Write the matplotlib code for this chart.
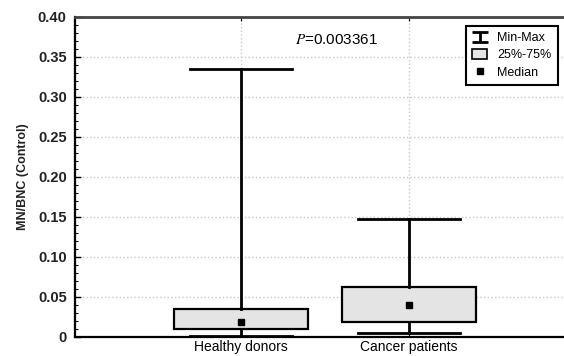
import matplotlib
matplotlib.use("Agg")
import matplotlib.pyplot as plt
from matplotlib.lines import Line2D
from matplotlib.patches import Patch
from matplotlib.path import Path
from matplotlib.ticker import MultipleLocator, FixedLocator

plt.rcParams['font.family'] = ['Liberation Sans', 'DejaVu Sans']
plt.rcParams['mathtext.fontset'] = 'stix'

groups = ['Healthy donors', 'Cancer patients']
mins = [0.001, 0.005]
q1 = [0.0095, 0.019]
medians = [0.019, 0.040]
q3 = [0.0345, 0.063]
maxs = [0.335, 0.148]
p_value = 0.003361

positions = [1, 2]
stats = []
for i, name in enumerate(groups):
    stats.append({'label': name, 'whislo': mins[i], 'q1': q1[i], 'med': medians[i],
                  'q3': q3[i], 'whishi': maxs[i], 'fliers': []})

fig = plt.figure(figsize=(5.64, 3.56), dpi=100)
ax = fig.add_axes([0.133, 0.0534, 0.875, 0.899])

ax.bxp(stats, positions=positions, widths=0.8, capwidths=0.61, patch_artist=True,
       showfliers=False,
       boxprops=dict(facecolor='#e4e4e4', edgecolor='black', linewidth=1.6),
       whiskerprops=dict(color='black', linewidth=2),
       capprops=dict(color='black', linewidth=2),
       medianprops=dict(linestyle='none'), zorder=3)
ax.plot(positions, medians, 's', color='black', markersize=5, zorder=4)

ax.set_ylim(0, 0.40)
ax.set_xlim(0.012, 2.95)
ax.yaxis.set_major_locator(FixedLocator([0.05 * k for k in range(9)]))
ax.yaxis.set_minor_locator(MultipleLocator(0.01))
ax.set_yticklabels(['0'] + ['%.2f' % (0.05 * k) for k in range(1, 9)])
ax.set_xticks(positions)
ax.set_xticklabels(groups)

ax.tick_params(axis='y', which='major', direction='in', length=4, width=1,
               labelsize=10.5, pad=6, labelcolor='#222222')
ax.tick_params(axis='y', which='minor', direction='in', length=2.5, width=0.8)
ax.tick_params(axis='x', direction='in', length=3, top=True, labelsize=10, pad=2)
for lab in ax.get_yticklabels():
    lab.set_fontweight('bold')

ax.grid(True, which='major', color='#c8c8c8', linestyle=':', linewidth=1)
ax.set_axisbelow(True)

ax.spines['left'].set_linewidth(1.6)
ax.spines['bottom'].set_linewidth(1.6)
ax.spines['top'].set_linewidth(2)
ax.spines['top'].set_color('#444444')
ax.spines['right'].set_visible(False)

ax.set_ylabel('MN/BNC (Control)', fontsize=9, fontweight='bold', color='#222222', labelpad=6)

ax.text(1.57, 0.371, r'$P$=0.%s' % str(p_value).split('.')[1], fontsize=11,
        ha='center', va='center')

# whisker-style icon for the min-max entry
whisker_icon = Path([(-1, 0.65), (1, 0.65), (0, 0.65), (0, -0.65), (-1, -0.65), (1, -0.65)],
                    [Path.MOVETO, Path.LINETO, Path.MOVETO, Path.LINETO, Path.MOVETO, Path.LINETO])
handles = [
    Line2D([], [], linestyle='none', marker=whisker_icon, markersize=12,
           markeredgecolor='black', markeredgewidth=2),
    Patch(facecolor='#e4e4e4', edgecolor='black', linewidth=1.2),
    Line2D([], [], linestyle='none', marker='s', color='black', markersize=4.5),
]
leg = ax.legend(handles, ['Min-Max', '25%-75%', 'Median'], loc='upper right',
                bbox_to_anchor=(0.978, 0.972), borderaxespad=0, fontsize=9,
                fancybox=False, framealpha=1, edgecolor='black',
                handlelength=1.2, handleheight=0.8, handletextpad=0.8,
                labelspacing=0.4, borderpad=0.5)
leg.get_frame().set_linewidth(1.5)

fig.savefig('out.png', dpi=100)
